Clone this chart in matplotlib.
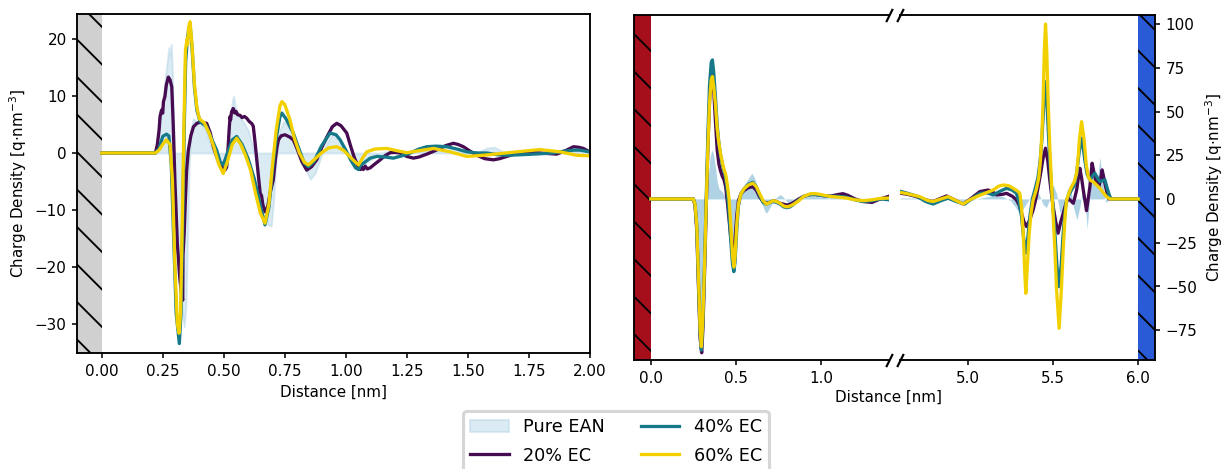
import matplotlib
matplotlib.use("Agg")
import matplotlib.pyplot as plt

# ---- charge density profiles, EAN near the neutral wall (0 - 2 nm) ----
x_ean_a = [0.0, 0.22, 0.23, 0.24, 0.25, 0.26, 0.268, 0.275, 0.28, 0.285, 0.29, 0.295, 0.30, 0.31,
           0.32, 0.33, 0.338, 0.345, 0.352, 0.358, 0.365, 0.375, 0.39, 0.41, 0.43, 0.45, 0.47,
           0.49, 0.505, 0.515, 0.525, 0.535, 0.54, 0.548, 0.56, 0.58, 0.60, 0.62, 0.64, 0.66,
           0.68, 0.695, 0.705, 0.715, 0.73, 0.745, 0.76, 0.78, 0.80, 0.83, 0.855, 0.875, 0.90,
           0.925, 0.95, 0.975, 1.0, 1.025, 1.05, 1.075, 1.10, 1.13, 1.16, 1.2, 1.25, 1.3, 1.35,
           1.4, 1.45, 1.5, 1.55, 1.58, 1.61, 1.64, 1.68, 1.75, 1.82, 1.88, 1.95, 2.0]
y_ean_a = [0, 0, 2, 5, 9, 13, 16, 18.5, 17, 19, 14, 5, -5, -15,
           -23, -28, -30.5, -27, -15, -3, 4, 6, 5.5, 5, 3.5, 1, -1.5,
           -2.8, -2.5, 1, 6, 9, 10, 8, 6.5, 5.5, 4, 1, -4, -9,
           -12.5, -12.8, -8, -1, 4, 5.5, 5, 3, 0.5, -2.5, -4.6, -3.5, -0.5,
           2, 3.5, 2.5, 0.5, -1.5, -2.3, -2, -1.2, -0.5, 0.2, 0.3, 0, 0.3, 0.6,
           0.7, 0.3, 0, 0.3, 0.9, 1.0, 0.3, -0.2, 0.2, 0, 0.2, 0.6, 0.4]

x_20_a = [0.0, 0.22, 0.228, 0.235, 0.239, 0.245, 0.25, 0.253, 0.259, 0.265, 0.273, 0.28, 0.287,
          0.293, 0.30, 0.31, 0.32, 0.328, 0.332, 0.333, 0.338, 0.343, 0.348, 0.355, 0.365, 0.376,
          0.39, 0.403, 0.418, 0.43, 0.445, 0.458, 0.471, 0.49, 0.505, 0.512, 0.518, 0.522, 0.526,
          0.528, 0.532, 0.539, 0.545, 0.55, 0.557, 0.567, 0.575, 0.585, 0.594, 0.605, 0.614,
          0.621, 0.628, 0.635, 0.642, 0.649, 0.655, 0.66, 0.669, 0.68, 0.69, 0.703, 0.712, 0.718,
          0.724, 0.735, 0.751, 0.77, 0.785, 0.80, 0.82, 0.84, 0.86, 0.881, 0.90, 0.925, 0.945,
          0.963, 0.98, 1.004, 1.02, 1.035, 1.045, 1.05, 1.055, 1.06, 1.066, 1.072, 1.08, 1.088,
          1.10, 1.12, 1.141, 1.16, 1.182, 1.20, 1.223, 1.25, 1.277, 1.30, 1.332, 1.36, 1.386,
          1.41, 1.441, 1.46, 1.482, 1.51, 1.537, 1.57, 1.605, 1.63, 1.66, 1.69, 1.728, 1.76,
          1.796, 1.83, 1.864, 1.90, 1.933, 1.955, 1.973, 2.0]
y_20_a = [0, 0, 1.5, 4, 6.4, 7.5, 7, 9, 9.9, 12, 13.3, 12.8, 11.6,
          5, -5, -16, -22, -25, -25.8, -18, -14, -8, -3, 0.5, 3, 4.6,
          5.2, 5.4, 5.3, 5.2, 3.5, 1, -0.6, -2.3, -3.0, -2.5, 1, 4, 6.4,
          5.8, 7.2, 7.8, 7.0, 7.3, 6.7, 6.6, 6.2, 6.4, 6.1, 5.5, 5.2,
          4.7, 2, -1, -4, -7.0, -7.5, -9, -10.3, -9.5, -7, -4.7, -1, 1,
          2.3, 3, 3.2, 2.8, 2.3, 0.8, -1.5, -3.0, -2.4, -1.2, 0.8, 3, 4.6,
          5.2, 4.8, 3.5, 1.2, -0.8, -1.8, -2.6, -2.0, -2.9, -2.4, -2.9, -2.3, -2.8,
          -2.6, -1.9, -1.2, -0.5, 0.05, 0.1, 0, -0.6, -0.9, -0.7, -0.2, 0.3, 0.8,
          1.3, 1.7, 1.5, 1.1, 0.3, -0.4, -1.0, -1.2, -1.0, -0.6, -0.2, 0, 0.1,
          0, -0.1, -0.2, 0.4, 1.1, 1.0, 0.8, 0.2]

x_40_a = [0.0, 0.22, 0.235, 0.25, 0.265, 0.275, 0.285, 0.295, 0.305, 0.318, 0.325, 0.332, 0.338,
          0.344, 0.35, 0.356, 0.362, 0.37, 0.38, 0.39, 0.403, 0.43, 0.45, 0.471, 0.485, 0.498,
          0.515, 0.535, 0.553, 0.575, 0.60, 0.625, 0.649, 0.669, 0.685, 0.70, 0.715, 0.73, 0.738,
          0.755, 0.785, 0.81, 0.83, 0.847, 0.87, 0.90, 0.936, 0.96, 0.977, 1.0, 1.02, 1.04,
          1.052, 1.06, 1.072, 1.10, 1.127, 1.16, 1.195, 1.23, 1.264, 1.30, 1.332, 1.37, 1.414,
          1.455, 1.496, 1.54, 1.578, 1.62, 1.66, 1.72, 1.769, 1.81, 1.851, 1.89, 1.933, 1.96, 2.0]
y_40_a = [0, 0, 0.8, 2.9, 3.3, 3.0, -2, -15, -28, -33.4, -28, -12, 4,
          16, 19.5, 21.5, 22.5, 18.5, 11.5, 7.5, 5.5, 4.6, 2.5, 0.5, -1.5, -2.1,
          0, 2.3, 2.9, 1.5, -1, -4.5, -9, -12.6, -9.5, -3, 2.5, 6.3, 7.0,
          6, 3.5, 0.5, -1.8, -2.4, -1.5, 1.2, 3.5, 3.2, 2.3, 0.5, -1.2, -2.6,
          -2.9, -2.2, -1.8, -0.9, -0.6, -0.7, -0.9, -0.5, 0, 0.7, 1.1, 1.2, 1.1,
          0.7, 0.2, 0, 0, -0.3, -0.4, -0.3, -0.2, -0.1, 0, 0.3, 0.5, 0.5, 0.2]

x_60_a = [0.0, 0.22, 0.235, 0.25, 0.265, 0.28, 0.29, 0.30, 0.31, 0.317, 0.323, 0.33, 0.337,
          0.343, 0.35, 0.352, 0.356, 0.362, 0.37, 0.38, 0.39, 0.40, 0.42, 0.44, 0.46, 0.48,
          0.498, 0.515, 0.535, 0.553, 0.57, 0.59, 0.61, 0.63, 0.65, 0.669, 0.685, 0.70, 0.715,
          0.73, 0.738, 0.75, 0.77, 0.79, 0.81, 0.83, 0.847, 0.87, 0.90, 0.93, 0.963, 0.99,
          1.02, 1.052, 1.07, 1.086, 1.12, 1.168, 1.21, 1.25, 1.30, 1.359, 1.427, 1.496, 1.564,
          1.632, 1.70, 1.796, 1.878, 1.946, 2.0]
y_60_a = [0, 0, 0.5, 1.5, 2.3, 1.5, -5, -20, -30, -31.6, -28, -12, 5,
          18, 20, 19, 22, 23.0, 19, 12, 8, 6, 5.3, 3.5, 1, -2,
          -3.6, -1.5, 1.5, 2.6, 1.5, -0.5, -3, -7, -10.5, -12.3, -9, -2, 4,
          8.2, 9.0, 8.5, 6, 2.5, 0, -1.6, -2.1, -1.2, 0, 0.9, 1.1, 0.5,
          -0.8, -2.1, -0.8, 0.2, 0.7, 0.8, 0.4, 0.05, 0.4, 0.8, 0.2, -0.6, -0.4,
          -0.1, 0.2, 0.6, 0.2, -0.4, -0.5]

# ---- charged electrodes: negative wall side (0 - 1.4 nm) ----
x_ean_b = [0.0, 0.25, 0.26, 0.27, 0.28, 0.29, 0.298, 0.307, 0.317, 0.327, 0.337, 0.348, 0.358,
           0.368, 0.38, 0.39, 0.40, 0.42, 0.44, 0.455, 0.47, 0.48, 0.487, 0.495, 0.505, 0.515,
           0.53, 0.55, 0.575, 0.594, 0.61, 0.63, 0.65, 0.67, 0.68, 0.70, 0.72, 0.74, 0.76, 0.78,
           0.80, 0.82, 0.84, 0.87, 0.90, 0.94, 0.97, 1.00, 1.05, 1.10, 1.13, 1.16, 1.20, 1.25,
           1.30, 1.35, 1.40]
y_ean_b = [0, 0, -8, -25, -50, -68, -72, -60, -30, -5, 12, 24, 28,
           26, 18, 10, 6, 4, 1, -5, -20, -30, -33, -28, -12, -2,
           4, 8, 12, 14.7, 12, 6, -2, -7, -8.2, -5, -1, 1, 2.5, 1,
           -1.5, -3, -2.5, -1, 0.5, 1.5, 1.5, 1, 0.5, 2.5, 3.5, 2.5, 0.5, -0.5,
           -1, 0, 0.5]

x_20_b = [0.0, 0.25, 0.26, 0.27, 0.28, 0.29, 0.299, 0.307, 0.317, 0.327, 0.337, 0.347, 0.355,
          0.362, 0.37, 0.38, 0.39, 0.40, 0.41, 0.42, 0.43, 0.44, 0.45, 0.46, 0.47, 0.48, 0.487,
          0.495, 0.505, 0.515, 0.53, 0.55, 0.575, 0.60, 0.62, 0.64, 0.66, 0.68, 0.70, 0.72, 0.74,
          0.76, 0.78, 0.80, 0.82, 0.84, 0.87, 0.90, 0.94, 0.97, 1.00, 1.05, 1.10, 1.13, 1.16,
          1.20, 1.25, 1.30, 1.35, 1.40]
y_20_b = [0, 0, -4, -18, -50, -80, -88, -72, -38, 0, 35, 60, 70,
          72, 62, 44, 28, 20, 16, 13, 11, 7, -2, -12, -22, -28, -29,
          -23, -10, -1, 3, 5, 6.5, 7, 5, 1, -1.5, -2.5, -2, -1, -1.5,
          -2.5, -3, -3.5, -3, -2, 0, 1.5, 2.5, 2.5, 2, 1.5, 2.5, 3, 2,
          0, -1.5, -2, 0, 1.5]

x_40_b = [0.0, 0.25, 0.26, 0.27, 0.28, 0.29, 0.297, 0.305, 0.315, 0.325, 0.335, 0.345, 0.355,
          0.362, 0.37, 0.38, 0.39, 0.40, 0.41, 0.42, 0.43, 0.44, 0.45, 0.46, 0.47, 0.48, 0.488,
          0.495, 0.505, 0.515, 0.53, 0.55, 0.575, 0.60, 0.62, 0.64, 0.66, 0.68, 0.70, 0.72, 0.74,
          0.76, 0.78, 0.80, 0.82, 0.84, 0.87, 0.90, 0.94, 0.97, 1.00, 1.05, 1.10, 1.15, 1.20,
          1.25, 1.30, 1.35, 1.40]
y_40_b = [0, 0, -3, -16, -47, -77, -86.5, -72, -40, -2, 35, 65, 78,
          79.5, 72, 58, 42, 32, 25, 20, 16, 12, 4, -8, -24, -37, -41.6,
          -36, -18, -4, 3, 6, 8.5, 9.5, 7, 2, -2, -3, -2, -1.5, -2,
          -3, -4.5, -5, -4.5, -3, -0.5, 1.5, 2.5, 2.5, 2, 1.5, 1.5, 1, -0.5,
          -1.5, -1, 0, -0.5]

x_60_b = [0.0, 0.25, 0.26, 0.27, 0.28, 0.29, 0.297, 0.305, 0.315, 0.325, 0.335, 0.345, 0.355,
          0.362, 0.37, 0.38, 0.39, 0.40, 0.41, 0.42, 0.43, 0.44, 0.45, 0.46, 0.47, 0.48, 0.488,
          0.495, 0.505, 0.515, 0.53, 0.55, 0.575, 0.60, 0.62, 0.64, 0.66, 0.68, 0.70, 0.72, 0.74,
          0.76, 0.78, 0.80, 0.82, 0.84, 0.87, 0.90, 0.94, 0.97, 1.00, 1.05, 1.10, 1.15, 1.20,
          1.25, 1.30, 1.35, 1.40]
y_60_b = [0, 0, -3, -15, -45, -75, -84.5, -70, -40, -5, 28, 55, 68,
          70, 64, 54, 40, 32, 26, 21, 17, 14, 8, 0, -15, -32, -39,
          -33, -15, -3, 3, 6, 8, 9, 7, 3, -1, -3, -2, -1, -1.5,
          -2.5, -4, -4.5, -4, -3, -1, 1.5, 3, 3, 2.5, 1.5, 1, 0.5, -0.5,
          -1, -0.5, 0.3, 0.5]

# ---- charged electrodes: positive wall side (4.6 - 6.0 nm) ----
x_ean_c = [4.6, 4.7, 4.8, 4.9, 5.0, 5.05, 5.1, 5.15, 5.2, 5.25, 5.28, 5.30, 5.32, 5.34, 5.36,
           5.38, 5.40, 5.42, 5.44, 5.46, 5.48, 5.50, 5.52, 5.54, 5.56, 5.58, 5.60, 5.62, 5.64,
           5.66, 5.67, 5.69, 5.70, 5.71, 5.72, 5.735, 5.75, 5.765, 5.775, 5.79, 5.80, 5.81, 5.83, 6.0]
y_ean_c = [0.5, 0.5, -1.5, 0.5, -1.5, 0, 1, 2, 1.5, -1, -5, -8, -6, -3, 0,
           3, 5, 2, -3, -5, 0, 8, 3, -8, -5, 5, 8, -5, -12,
           -3, 5, -5, -17, -5, 10, 22, 8, 15, 24, 10, 2, -2, 0, 0]

x_20_c = [4.608, 4.65, 4.696, 4.75, 4.794, 4.83, 4.873, 4.92, 4.971, 5.02, 5.069, 5.118, 5.145,
          5.167, 5.2, 5.226, 5.26, 5.284, 5.30, 5.314, 5.328, 5.343, 5.362, 5.382, 5.398, 5.412,
          5.425, 5.44, 5.455, 5.468, 5.48, 5.49, 5.50, 5.515, 5.529, 5.545, 5.559, 5.574, 5.588,
          5.603, 5.618, 5.628, 5.638, 5.648, 5.657, 5.667, 5.677, 5.687, 5.696, 5.706, 5.716,
          5.723, 5.729, 5.74, 5.75, 5.76, 5.769, 5.778, 5.788, 5.798, 5.808, 5.818, 5.827, 6.0]
y_20_c = [3.2, 2.5, 1.3, -0.5, -1.5, 0, 1.7, -0.5, -2.9, 0.5, 4.2, 5.1, 4,
          2.3, 2.6, 3.2, 1.5, -0.6, -3.5, -8.2, -13, -15.8, -12, -6.3, 0, 7,
          14, 23, 29, 22, 10.9, 3, -4.4, -13, -19.6, -13, -8.2, -3, 0.4,
          -1, -2.5, 1, 5.1, 12, 17.5, 12, 5.1, -1, -6.7, 0, 7,
          14, 20.4, 15, 10.9, 8, 7, 11, 16.6, 12, 7, 3, 0, 0]

x_40_c = [4.608, 4.65, 4.70, 4.75, 4.794, 4.84, 4.882, 4.93, 4.98, 5.02, 5.069, 5.11, 5.147,
          5.19, 5.226, 5.26, 5.284, 5.30, 5.314, 5.326, 5.339, 5.351, 5.363, 5.378, 5.392, 5.41,
          5.422, 5.432, 5.441, 5.448, 5.455, 5.462, 5.47, 5.48, 5.49, 5.50, 5.51, 5.522, 5.535,
          5.547, 5.559, 5.57, 5.579, 5.595, 5.608, 5.625, 5.638, 5.652, 5.667, 5.676, 5.686,
          5.70, 5.716, 5.73, 5.745, 5.76, 5.775, 5.79, 5.804, 5.818, 5.833, 5.845, 6.0]
y_40_c = [4.2, 3, 1.5, -1.5, -2.9, -1, 0.4, -1.5, -2.9, 0, 3.2, 3.5, 2.3,
          4.5, 6.1, 5, 3.2, -2, -10, -22, -31, -22, -10, 0, 5.1, 12,
          20.4, 32, 47, 60, 67, 58, 41.4, 22, 7, -6, -19.6, -38, -50.2,
          -38, -19.6, -7, -0.6, 3, 5.1, 8, 14.7, 26, 34.7, 30, 22.3,
          14, 10.9, 13, 14.7, 12, 9.9, 10.5, 10.9, 6, 1.3, 0, 0]

x_60_c = [4.608, 4.65, 4.716, 4.76, 4.794, 4.84, 4.882, 4.93, 4.971, 5.01, 5.049, 5.108, 5.147,
          5.18, 5.206, 5.24, 5.265, 5.29, 5.304, 5.314, 5.324, 5.332, 5.339, 5.346, 5.359, 5.37,
          5.382, 5.40, 5.415, 5.425, 5.435, 5.441, 5.448, 5.455, 5.462, 5.47, 5.48, 5.49, 5.50,
          5.51, 5.52, 5.535, 5.548, 5.559, 5.57, 5.579, 5.595, 5.608, 5.625, 5.638, 5.648, 5.654,
          5.667, 5.676, 5.682, 5.694, 5.706, 5.72, 5.735, 5.755, 5.775, 5.795, 5.814, 5.833, 6.0]
y_60_c = [3.6, 2.8, 1.3, -0.8, -1.5, 0, 1.3, -1, -2.9, -0.5, 1.3, 3.6, 5.1,
          7.3, 8.0, 7.5, 6.1, 4.5, 3.2, -5, -19.6, -40, -54, -42, -19.6, -8,
          -0.6, 5, 12, 22, 40, 56.6, 85, 100, 85, 56.6, 30, 9, -10,
          -29, -52, -74, -52, -29, -10, -0.6, 4, 7, 10, 14.7, 25, 33.8,
          44.2, 38, 33.8, 20, 12.8, 10.5, 9.9, 8, 6.1, 3.5, 1.3, 0, 0]

labels = ["Pure EAN", "20% EC", "40% EC", "60% EC"]
colors = ["#a6cee3", "#460b50", "#16798a", "#f2d000"]

DPI = 225
S = 0.483  # shrink factor applied to matplotlib's default sizes at this dpi
plt.rcParams.update({
    "font.size": 10 * S,
    "axes.linewidth": 0.6,
    "xtick.major.size": 3.5 * S,
    "ytick.major.size": 3.5 * S,
    "xtick.major.width": 0.5,
    "ytick.major.width": 0.5,
    "xtick.major.pad": 3.5 * S,
    "ytick.major.pad": 3.5 * S,
    "axes.labelpad": 4.0 * S,
    "hatch.linewidth": 0.6,
    "hatch.color": "black",
})
LW = 1.05
HATCH = "\\\\"
ylab = "Charge Density [q$\\cdot$nm$^{-3}$]"

fig = plt.figure(figsize=(1223.2 / DPI, 469.2 / DPI), dpi=DPI)

# left panel: neutral wall
ax = fig.add_axes([0.0632, 0.2467, 0.419, 0.7235])
ax.axvspan(-0.1, 0, facecolor="#d0d0d0", edgecolor="black", hatch=HATCH, lw=0, zorder=0)
ean = ax.fill_between(x_ean_a, y_ean_a, 0, color=colors[0], alpha=0.4, lw=0.6, label=labels[0])
l20, = ax.plot(x_20_a, y_20_a, color=colors[1], lw=LW, label=labels[1])
l40, = ax.plot(x_40_a, y_40_a, color=colors[2], lw=LW, label=labels[2])
l60, = ax.plot(x_60_a, y_60_a, color=colors[3], lw=LW, label=labels[3])
ax.set_xlim(-0.1, 2.0)
ax.set_ylim(-35.1, 24.4)
ax.set_xticks([0, 0.25, 0.5, 0.75, 1.0, 1.25, 1.5, 1.75, 2.0])
ax.set_yticks([-30, -20, -10, 0, 10, 20])
ax.set_xlabel("Distance [nm]")
ax.set_ylabel(ylab)

# right panel: charged walls, broken x axis
axb = fig.add_axes([0.5182, 0.2324, 0.2085, 0.7356])
axc = fig.add_axes([0.7359, 0.2324, 0.2085, 0.7356])
axb.axvspan(-0.1, 0, facecolor="#a50f1c", edgecolor="black", hatch=HATCH, lw=0, zorder=0)
axc.axvspan(6.0, 6.1, facecolor="#2a5bd6", edgecolor="black", hatch=HATCH, lw=0, zorder=0)
for a, xe, ye, x20, y20, x40, y40, x60, y60 in [
        (axb, x_ean_b, y_ean_b, x_20_b, y_20_b, x_40_b, y_40_b, x_60_b, y_60_b),
        (axc, x_ean_c, y_ean_c, x_20_c, y_20_c, x_40_c, y_40_c, x_60_c, y_60_c)]:
    a.fill_between(xe, ye, 0, color=colors[0], alpha=0.9, lw=0)
    a.plot(x20, y20, color=colors[1], lw=LW)
    a.plot(x40, y40, color=colors[2], lw=LW)
    a.plot(x60, y60, color=colors[3], lw=LW)
    a.set_ylim(-92.1, 105.3)

axb.set_xlim(-0.1, 1.4)
axc.set_xlim(4.6, 6.1)
axb.set_xticks([0, 0.5, 1.0])
axc.set_xticks([5.0, 5.5, 6.0])
axb.spines["right"].set_visible(False)
axc.spines["left"].set_visible(False)
axb.tick_params(axis="y", left=False, labelleft=False)
axc.yaxis.tick_right()
axc.yaxis.set_label_position("right")
axc.set_yticks([-75, -50, -25, 0, 25, 50, 75, 100])
axc.set_ylabel(ylab)
fig.text(888 / 1223, 1 - 397 / 469, "Distance [nm]", ha="center", va="center")

# break marks
mk = dict(marker=[(-0.5, -1), (0.5, 1)], markersize=4.2, linestyle="none",
          color="k", mec="k", mew=0.7, clip_on=False)
axb.plot([1, 1], [0, 1], transform=axb.transAxes, **mk)
axc.plot([0, 0], [0, 1], transform=axc.transAxes, **mk)

fig.legend(handles=[ean, l20, l40, l60], labels=labels, ncol=2, loc="upper center",
           bbox_to_anchor=(616 / 1223, 1 - 411 / 469), borderaxespad=0, fontsize=5.66,
           handlelength=2.2, columnspacing=2.0, labelspacing=0.6)

fig.savefig("out.png", dpi=DPI)
